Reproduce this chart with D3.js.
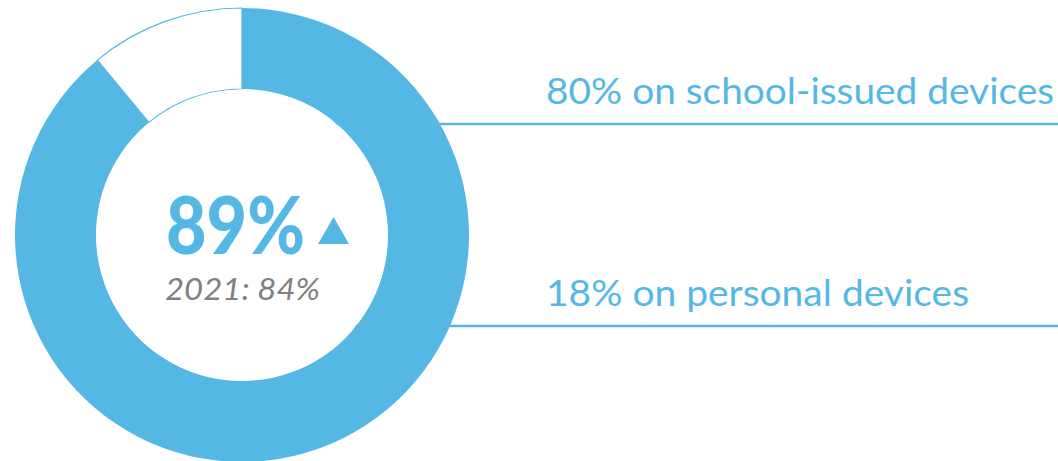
<!DOCTYPE html>
<html>
<head>
<meta charset="utf-8">
<script src="https://cdn.jsdelivr.net/npm/d3@7"></script>
<style>
  html, body { margin: 0; padding: 0; background: #fff; }
  svg { display: block; }
</style>
</head>
<body>
<svg id="chart" width="1058" height="461"></svg>
<script>
// Share of students using devices, with breakdown by device type
const segments = ["Uses devices", "Does not"];
const segmentValues = [89, 11];
const headline = "89%";
const priorYearLabel = "2021: 84%";
const breakdownLabels = ["80% on school-issued devices", "18% on personal devices"];
const breakdownValues = [80, 18];

const BLUE = "#55b8e4";
const GREY = "#808080";
const FONT = "Lato, 'Open Sans', sans-serif";

const svg = d3.select("#chart");
const cx = 242, cy = 235, rOuter = 227, rInner = 146;

// Callout lines sit behind the ring
const lineY = d3.scaleOrdinal().domain(breakdownLabels).range([124, 326]);
svg.selectAll("line.callout")
  .data(breakdownLabels)
  .join("line")
  .attr("class", "callout")
  .attr("x1", cx).attr("x2", 1058)
  .attr("y1", d => lineY(d)).attr("y2", d => lineY(d))
  .attr("stroke", BLUE).attr("stroke-width", 2.5);

// Ring
const pie = d3.pie().sort(null).value(d => d);
const arc = d3.arc().innerRadius(rInner).outerRadius(rOuter);
const g = svg.append("g").attr("transform", `translate(${cx},${cy})`);
g.selectAll("path")
  .data(pie(segmentValues))
  .join("path")
  .attr("d", arc)
  .attr("fill", (d, i) => i === 0 ? BLUE : "#fff")
  .attr("stroke", (d, i) => i === 0 ? "none" : BLUE)
  .attr("stroke-width", 1.2);

// Inner disc keeps the callout lines hidden inside the ring
g.append("circle").attr("r", rInner - 0.5).attr("fill", "#fff");

// Headline value
svg.append("text")
  .attr("x", 166).attr("y", 254)
  .attr("font-family", FONT).attr("font-weight", 900)
  .attr("font-size", 80).attr("fill", BLUE)
  .attr("textLength", 139).attr("lengthAdjust", "spacingAndGlyphs")
  .text(headline);

// Up-trend marker
svg.append("path")
  .attr("d", d3.line()([[318, 244], [333.5, 217], [349, 244]]) + "Z")
  .attr("fill", BLUE);

// Prior-year comparison
svg.append("text")
  .attr("x", 165).attr("y", 300)
  .attr("font-family", FONT).attr("font-style", "italic")
  .attr("font-size", 30).attr("fill", GREY)
  .attr("textLength", 155).attr("lengthAdjust", "spacingAndGlyphs")
  .text(priorYearLabel);

// Breakdown labels
const labelWidths = [508, 423];
svg.selectAll("text.breakdown")
  .data(breakdownLabels)
  .join("text")
  .attr("class", "breakdown")
  .attr("x", 546)
  .attr("y", d => lineY(d) - 20)
  .attr("font-family", FONT)
  .attr("font-size", 37)
  .attr("fill", BLUE)
  .attr("textLength", (d, i) => labelWidths[i])
  .attr("lengthAdjust", "spacingAndGlyphs")
  .text(d => d);
</script>
</body>
</html>
